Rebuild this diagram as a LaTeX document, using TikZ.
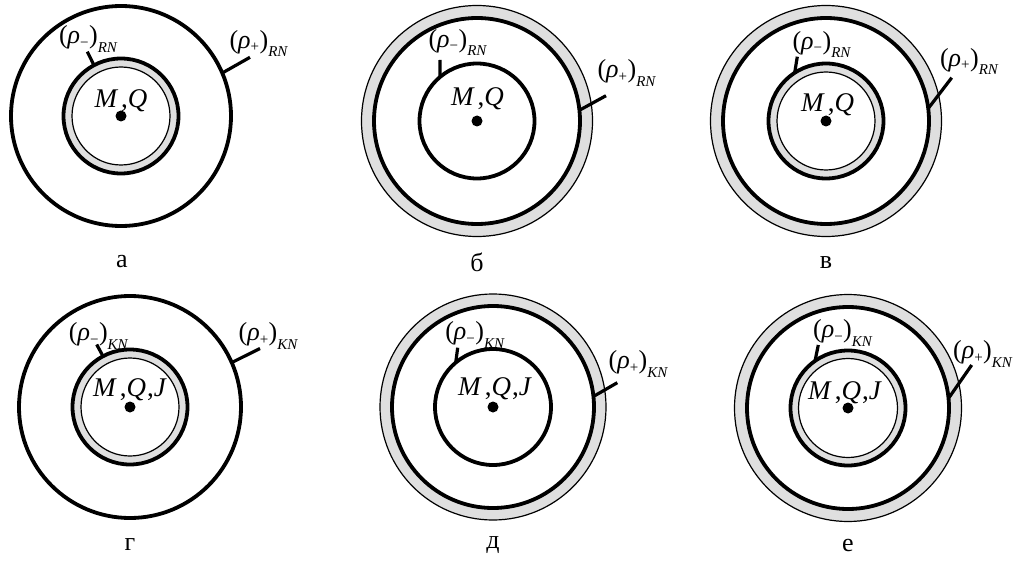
\documentclass[tikz,border=0pt]{standalone}
\usepackage{fontspec}
\setmainfont{Liberation Serif}
\newcommand{\smallsz}{\fontsize{15}{15}\selectfont}
\newcommand{\rholbl}[2]{(\textit{ρ}\raisebox{-0.3ex}{\smallsz #1}\kern0.5pt)\raisebox{-0.7ex}{\smallsz\itshape #2}}
\newcommand{\mq}{\textit{M}\kern3pt,\textit{Q}}
\newcommand{\mqj}{\textit{M}\kern3pt,\textit{Q}\kern1pt,\textit{J}}
\tikzset{
  horizon/.style={line width=3.8pt},
  shell/.style={line width=1.2pt},
  ring/.style={fill=gray!25,even odd rule},
  tick/.style={line width=3.2pt},
  rholab/.style={inner sep=0pt,font=\fontsize{26}{28}\selectfont},
  mass/.style={inner sep=0pt,font=\fontsize{27}{29}\selectfont},
  caption/.style={inner sep=0pt,font=\fontsize{26}{28}\selectfont},
  dot/.style={circle,fill=black,inner sep=0pt,minimum size=11pt}
}
\begin{document}
\begin{tikzpicture}[x=1pt,y=1pt]
\useasboundingbox (0,0) rectangle (1025,566);

% a
\begin{scope}[shift={(121,450)}]
\fill[ring] (0,0) circle (49) (0,0) circle (57.5);
\draw[shell] (0,0) circle (49);
\draw[horizon] (0,0) circle (57.5);
\draw[horizon] (0,0) circle (110);
\node[dot] (ca) at (0,0) {};
\node[mass] (mqa) at (0,15) {\mq};
\node[rholab] (rma) at (-33,77) {\rholbl{−}{RN}};
\node[rholab] (rpa) at (137.5,72.5) {\rholbl{+}{RN}};
\coordinate (tma) at (-33.7,64.3);
\coordinate (tpa) at (129,58.7);
\draw[tick] (118:57.5) -- (tma);
\draw[tick] (23:110) -- (tpa);
\node[caption] (la) at (1,-146) {а};
\end{scope}

% b
\begin{scope}[shift={(477,445)}]
\fill[ring] (0,0) circle (103) (0,0) circle (115.5);
\draw[shell] (0,0) circle (115.5);
\draw[horizon] (0,0) circle (103);
\draw[horizon] (0,0) circle (57.5);
\node[dot] (cb) at (0,0) {};
\node[mass] (mqb) at (0.5,22) {\mq};
\node[rholab] (rmb) at (-19.5,78.5) {\rholbl{−}{RN}};
\node[rholab] (rpb) at (149.5,48) {\rholbl{+}{RN}};
\coordinate (tmb) at (-37,61);
\coordinate (tpb) at (129,25.3);
\draw[tick] (130:57.5) -- (tmb);
\draw[tick] (6:103) -- (tpb);
\node[caption] (lb) at (0,-141) {б};
\end{scope}

% v
\begin{scope}[shift={(826,445)}]
\fill[ring] (0,0) circle (103) (0,0) circle (115.5);
\draw[shell] (0,0) circle (115.5);
\draw[horizon] (0,0) circle (103);
\fill[ring] (0,0) circle (49) (0,0) circle (57.5);
\draw[shell] (0,0) circle (49);
\draw[horizon] (0,0) circle (57.5);
\node[dot] (cv) at (0,0) {};
\node[mass] (mqv) at (1.5,16) {\mq};
\node[rholab] (rmv) at (-4.5,76.5) {\rholbl{−}{RN}};
\node[rholab] (rpv) at (143,59.5) {\rholbl{+}{RN}};
\coordinate (tmv) at (-28.7,64.3);
\coordinate (tpv) at (125.7,43.3);
\draw[tick] (123:57.5) -- (tmv);
\draw[tick] (7:103) -- (tpv);
\node[caption] (lv) at (0,-142) {в};
\end{scope}

% g
\begin{scope}[shift={(130,159)}]
\fill[ring] (0,0) circle (49) (0,0) circle (57.5);
\draw[shell] (0,0) circle (49);
\draw[horizon] (0,0) circle (57.5);
\draw[horizon] (0,0) circle (111);
\node[dot] (cg) at (0,0) {};
\node[mass] (mqg) at (0,17) {\mqj};
\node[rholab] (rmg) at (-31.7,71) {\rholbl{−}{KN}};
\node[rholab] (rpg) at (138,71) {\rholbl{+}{KN}};
\coordinate (tmg) at (-33.3,62.5);
\coordinate (tpg) at (130,58.5);
\draw[tick] (118:57.5) -- (tmg);
\draw[tick] (23.6:111) -- (tpg);
\node[caption] (lg) at (0,-138) {г};
\end{scope}

% d
\begin{scope}[shift={(493,159)}]
\fill[ring] (0,0) circle (101) (0,0) circle (113);
\draw[shell] (0,0) circle (113);
\draw[horizon] (0,0) circle (101);
\draw[horizon] (0,0) circle (58);
\node[dot] (cd) at (0,0) {};
\node[mass] (mqd) at (2,18.5) {\mqj};
\node[rholab] (rmd) at (-18.3,72) {\rholbl{−}{KN}};
\node[rholab] (rpd) at (145,43) {\rholbl{+}{KN}};
\coordinate (tmd) at (-35.3,59.3);
\coordinate (tpd) at (124.3,24.3);
\draw[tick] (130:58) -- (tmd);
\draw[tick] (6:101) -- (tpd);
\node[caption] (ld) at (0,-138) {д};
\end{scope}

% e
\begin{scope}[shift={(848,158)}]
\fill[ring] (0,0) circle (101) (0,0) circle (113.5);
\draw[shell] (0,0) circle (113.5);
\draw[horizon] (0,0) circle (101);
\fill[ring] (0,0) circle (49.5) (0,0) circle (57.5);
\draw[shell] (0,0) circle (49.5);
\draw[horizon] (0,0) circle (57.5);
\node[dot] (ce) at (0,0) {};
\node[mass] (mqe) at (-3,15.5) {\mqj};
\node[rholab] (rme) at (-5.5,75) {\rholbl{−}{KN}};
\node[rholab] (rpe) at (134.5,54) {\rholbl{+}{KN}};
\coordinate (tme) at (-29.7,63);
\coordinate (tpe) at (123.7,43);
\draw[tick] (125:57.5) -- (tme);
\draw[tick] (5.5:101) -- (tpe);
\node[caption] (le) at (0,-137) {е};
\end{scope}
\end{tikzpicture}
\end{document}
